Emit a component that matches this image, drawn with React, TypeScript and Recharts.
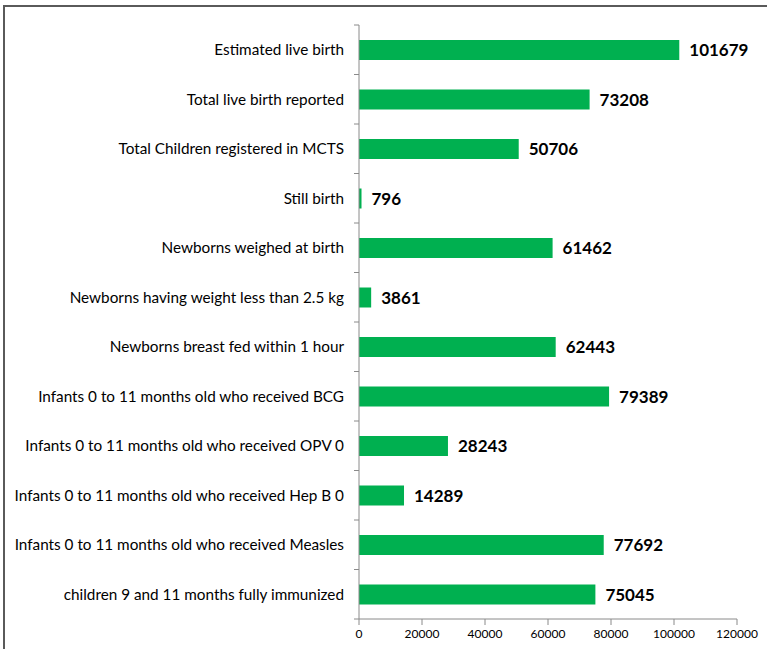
import React from "react";
import { BarChart, Bar, XAxis, YAxis, LabelList } from "recharts";

const categories: string[] = [
  "Estimated live birth",
  "Total live birth reported",
  "Total Children registered in MCTS",
  "Still birth",
  "Newborns weighed at birth",
  "Newborns having weight less than 2.5 kg",
  "Newborns breast fed within 1 hour",
  "Infants 0 to 11 months old who received BCG",
  "Infants 0 to 11 months old who received OPV 0",
  "Infants 0 to 11 months old who received Hep B 0",
  "Infants 0 to 11 months old who received Measles",
  "children 9 and 11 months fully immunized",
];

const values: number[] = [
  101679, 73208, 50706, 796, 61462, 3861, 62443, 79389, 28243, 14289, 77692,
  75045,
];

const xTicks: number[] = [0, 20000, 40000, 60000, 80000, 100000, 120000];

const data = categories.map((name, i) => ({ name, value: values[i] }));

const W = 767;
const H = 649;
const M = { top: 25, right: 30, left: 0, bottom: 0 };
const Y_AXIS_W = 359;
const X_AXIS_H = 30;
const TICK_SIZE = 5;
const TICK_MARGIN = 10;
const BAND = (H - M.top - M.bottom - X_AXIS_H) / categories.length;
const FONT = "Lato, 'Open Sans', sans-serif";
const AXIS_COLOR = "#8a8a8a";

const YTick = (props: any) => {
  const { x, y, payload, index } = props;
  const lineX2 = x + TICK_MARGIN + TICK_SIZE;
  const lineX1 = x + TICK_MARGIN;
  const last = index === categories.length - 1;
  return (
    <g>
      <line x1={lineX1} x2={lineX2} y1={y - BAND / 2} y2={y - BAND / 2} stroke={AXIS_COLOR} />
      {last && (
        <line x1={lineX1} x2={lineX2} y1={y + BAND / 2} y2={y + BAND / 2} stroke={AXIS_COLOR} />
      )}
      <text
        x={x}
        y={y}
        dy="0.35em"
        textAnchor="end"
        fontSize={15.3}
        fontFamily={FONT}
        fill="#000"
      >
        {payload.value}
      </text>
    </g>
  );
};

export default function App() {
  return (
    <div
      style={{
        position: "absolute",
        left: 0,
        top: 0,
        width: W,
        height: H,
        overflow: "hidden",
        background: "#fff",
      }}
    >
      <div
        style={{
          position: "absolute",
          left: 3,
          top: 5,
          width: 1000,
          height: 1000,
          border: "2px solid #5a5a5a",
        }}
      />
      <div style={{ position: "absolute", left: 0, top: 0 }}>
        <BarChart width={W} height={H} data={data} layout="vertical" margin={M}>
          <XAxis
            type="number"
            domain={[0, 120000]}
            ticks={xTicks}
            height={X_AXIS_H}
            tickSize={6}
            tickMargin={4}
            stroke={AXIS_COLOR}
            tick={{ fontSize: 12, fontFamily: FONT, fill: "#000" }}
            interval={0}
          />
          <YAxis
            type="category"
            dataKey="name"
            width={Y_AXIS_W}
            tickLine={false}
            tickSize={TICK_SIZE}
            tickMargin={TICK_MARGIN}
            stroke={AXIS_COLOR}
            tick={<YTick />}
            interval={0}
          />
          <Bar dataKey="value" fill="#00B050" barSize={20} isAnimationActive={false}>
            <LabelList
              dataKey="value"
              position="right"
              offset={10}
              fill="#000"
              fontSize={17}
              fontWeight={700}
              fontFamily={FONT}
            />
          </Bar>
        </BarChart>
      </div>
    </div>
  );
}
